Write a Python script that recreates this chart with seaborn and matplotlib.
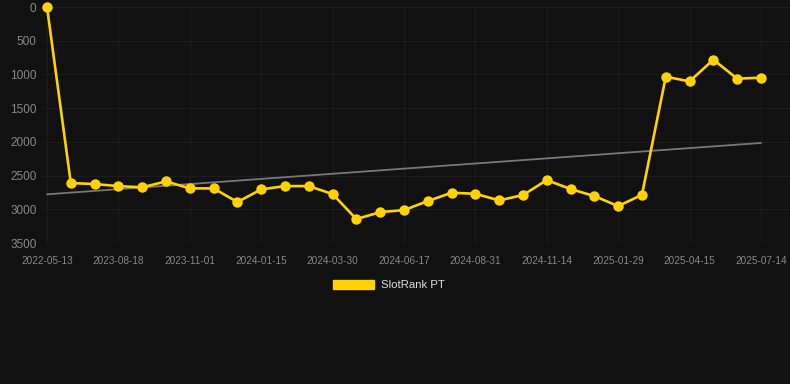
import numpy as np
import pandas as pd
import seaborn as sns
import matplotlib.pyplot as plt
from matplotlib.patches import Patch

##-----Data-----##
ranks = [0, 2611, 2626, 2656, 2675, 2586, 2690, 2690, 2893, 2705, 2656,
         2656, 2774, 3145, 3042, 3012, 2878, 2755, 2770, 2868, 2789,
         2567, 2700, 2804, 2953, 2785, 1034, 1103, 781, 1063, 1048]
tick_labels = ['2022-05-13', '2023-08-18', '2023-11-01', '2024-01-15',
               '2024-03-30', '2024-06-17', '2024-08-31', '2024-11-14',
               '2025-01-29', '2025-04-15', '2025-07-14']
series_name = 'SlotRank PT'

df = pd.DataFrame({'idx': np.arange(len(ranks)), 'rank': ranks})

# linear trend over the whole series
slope, icpt = np.polyfit(df['idx'], df['rank'], 1)
df['trend'] = icpt + slope * df['idx']

##-----Style-----##
bg = '#111111'
gold = '#FFD200'
sns.set_theme(style='dark')
plt.rcParams['font.family'] = ['Liberation Sans', 'DejaVu Sans']

fig = plt.figure(figsize=(7.9, 3.84), dpi=100, facecolor=bg)
ax = fig.add_axes([42 / 790, 141 / 384, 748 / 790, 236 / 384])
ax.set_facecolor(bg)

sns.lineplot(data=df, x='idx', y='trend', color='#777777', linewidth=1.3, ax=ax)
sns.lineplot(data=df, x='idx', y='rank', color=gold, linewidth=1.9,
             marker='o', markersize=7.5, markeredgewidth=0, ax=ax, clip_on=False)

ax.set_xlim(-0.21, 31.22)
ax.set_ylim(3500, 0)
ax.set_yticks(range(0, 3501, 500))
ax.set_xticks(df['idx'][::3])
ax.set_xticklabels(tick_labels)
ax.tick_params(axis='x', colors='#888888', labelsize=7.2, length=0, pad=9)
ax.tick_params(axis='y', colors='#888888', labelsize=8.5, length=0, pad=4)
ax.grid(True, color='#1c1c1c', linewidth=0.8)
ax.axhline(3500, color='#262626', linewidth=0.9, zorder=0)
ax.set_xlabel('')
ax.set_ylabel('')
for s in ax.spines.values():
    s.set_visible(False)

fig.legend(handles=[Patch(facecolor=gold, edgecolor=gold, label=series_name)],
           loc='center', bbox_to_anchor=(0.492, 0.258), frameon=False,
           fontsize=8.2, labelcolor='#dddddd', handlelength=3.6, handleheight=0.9,
           handletextpad=0.6)

fig.savefig('out.png', dpi=100, facecolor=bg)
